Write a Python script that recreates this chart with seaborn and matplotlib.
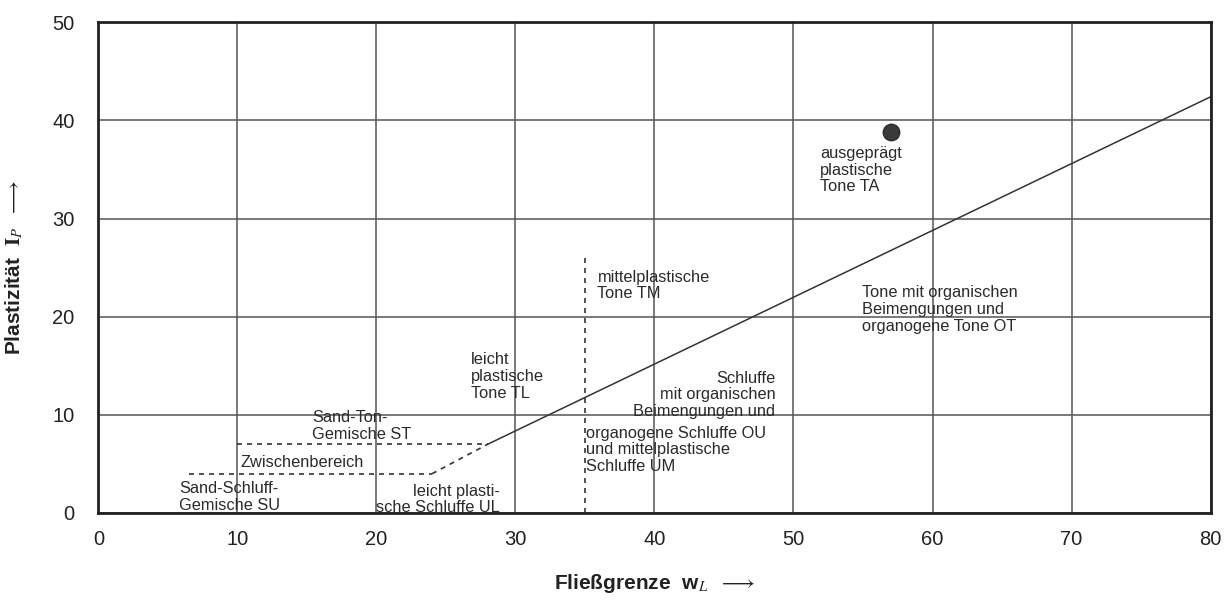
import matplotlib
matplotlib.use("Agg")
import matplotlib.pyplot as plt
import seaborn as sns
import pandas as pd

# ---- data ----
x_ticks = [0, 10, 20, 30, 40, 50, 60, 70, 80]
y_ticks = [0, 10, 20, 30, 40, 50]

a_line_x = [28, 80]
a_line_y = [7, 42.4]

st_dash_x = [10, 28]
st_dash_y = [7, 7]
su_dash_x = [6.5, 24]
su_dash_y = [4, 4]
diag_dash_x = [24, 28]
diag_dash_y = [4, 7]
vert_dash_x = [35, 35]
vert_dash_y = [0, 26]

point_x = [57]
point_y = [38.8]

labels = [
    ("ausgeprägt\nplastische\nTone TA", 51.9, 37.4, "left"),
    ("Tone mit organischen\nBeimengungen und\norganogene Tone OT", 54.9, 23.2, "left"),
    ("mittelplastische\nTone TM", 35.9, 24.8, "left"),
    ("leicht\nplastische\nTone TL", 26.8, 16.4, "left"),
    ("Sand-Ton-\nGemische ST", 15.4, 10.5, "left"),
    ("Zwischenbereich", 10.2, 5.9, "left"),
    ("Sand-Schluff-\nGemische SU", 5.8, 3.25, "left"),
    ("leicht plasti-\nsche Schluffe UL", 28.9, 3.0, "right"),
    ("Schluffe\nmit organischen\nBeimengungen und", 48.7, 14.5, "right"),
    ("organogene Schluffe OU\nund mittelplastische\nSchluffe UM", 35.1, 8.9, "left"),
]

# ---- style ----
sns.set_theme(style="white")
plt.rcParams["font.family"] = ["Liberation Sans", "DejaVu Sans"]
plt.rcParams["mathtext.fontset"] = "stix"

fig = plt.figure(figsize=(12.29, 6.0), dpi=100)
ax = fig.add_axes([0.080, 0.145, 0.905, 0.818])

grid_c = "#555555"
ax.set_xlim(0, 80)
ax.set_ylim(0, 50)
ax.set_xticks(x_ticks)
ax.set_yticks(y_ticks)
ax.grid(True, color=grid_c, linewidth=1.1)
ax.set_axisbelow(True)
for s in ax.spines.values():
    s.set_color("#222222")
    s.set_linewidth(2.0)
ax.tick_params(axis="both", length=0, labelsize=14.5, colors="#222222")
ax.tick_params(axis="x", pad=12)
ax.tick_params(axis="y", pad=17)

line_kw = dict(color="#333333", linewidth=1.1, sort=False, estimator=None,
               legend=False, ax=ax)
sns.lineplot(x=a_line_x, y=a_line_y, **line_kw)
dash_kw = dict(color="#333333", linewidth=1.2, sort=False, estimator=None,
               legend=False, ax=ax)
for xs, ys in [(st_dash_x, st_dash_y), (su_dash_x, su_dash_y),
               (diag_dash_x, diag_dash_y), (vert_dash_x, vert_dash_y)]:
    sns.lineplot(x=xs, y=ys, **dash_kw)
    ax.lines[-1].set_linestyle((0, (3, 3)))

sns.scatterplot(x=point_x, y=point_y, s=140, color="#3a3a3a",
                edgecolor="#2a2a2a", linewidth=1, ax=ax, zorder=5)

for txt, x, y, ha in labels:
    ax.text(x, y, txt, ha=ha, va="top", multialignment=ha,
            fontsize=11.8, color="#2a2a2a", linespacing=1.15)

ax.set_xlabel(r"Fließgrenze  w$_{\mathit{L}}$  $\longrightarrow$",
              fontsize=15, fontweight="bold", labelpad=17, color="#222222")
ax.set_ylabel(r"Plastizität  $\mathbf{I}_{\mathit{P}}$  $\longrightarrow$",
              fontsize=15, fontweight="bold", labelpad=20, color="#222222")

fig.savefig("out.png", dpi=100, facecolor="white")
